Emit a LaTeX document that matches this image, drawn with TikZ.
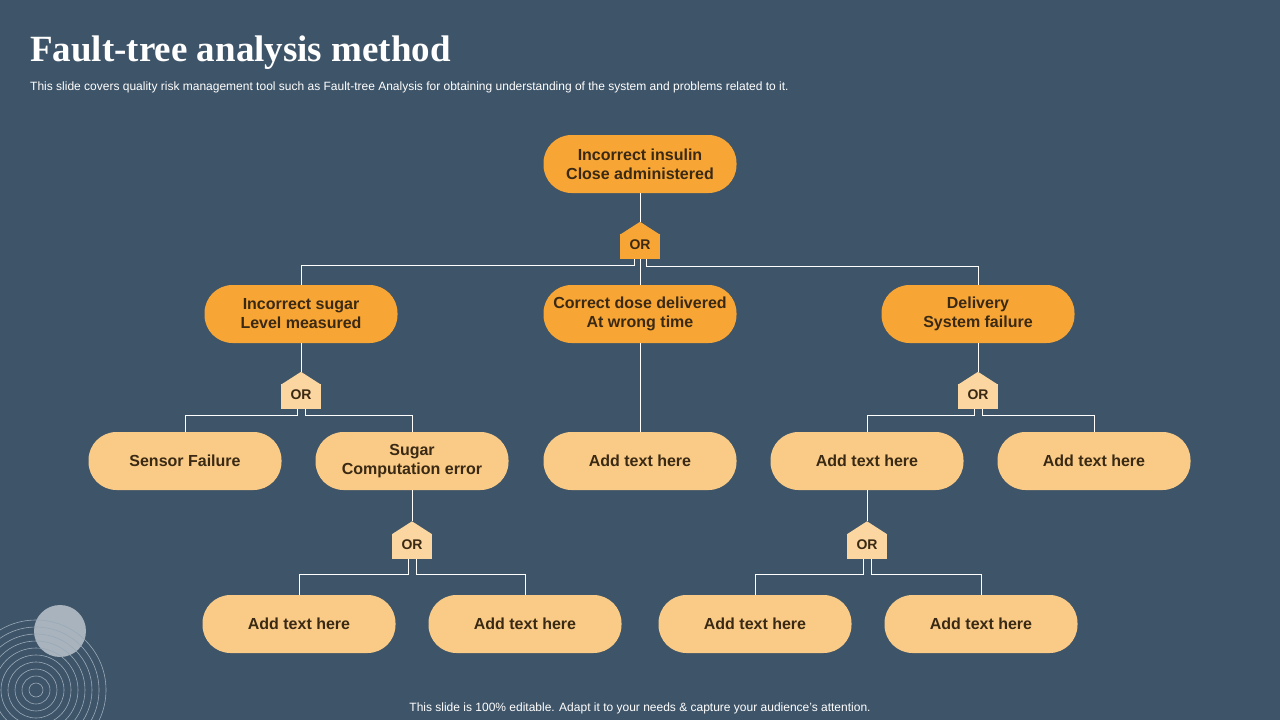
\documentclass[tikz,border=0pt]{standalone}
\usepackage{fontspec}
\setmainfont{Liberation Sans}
\newfontfamily\titlefont{Liberation Serif}
\usetikzlibrary{calc}
\definecolor{bg}{HTML}{3E5468}
\definecolor{hot}{HTML}{F7A534}
\definecolor{soft}{HTML}{F9CB86}
\definecolor{gsoft}{HTML}{FBD6A0}
\definecolor{txt}{HTML}{3A2914}
\definecolor{ring}{HTML}{9AAAB8}
\definecolor{disc}{HTML}{B4BEC7}
\newcommand{\mkgate}[3]{%
  \node[gatebody, fill=#3] (#1) at (#2) {OR};
  \fill[#3] ([yshift=-1pt]#1.north west) -- ([yshift=12pt]#1.north) -- ([yshift=-1pt]#1.north east) -- cycle;
}
\begin{document}
\begin{tikzpicture}[x=1pt,y=-1pt,
  box/.style={rectangle, rounded corners=28pt, minimum width=193pt, minimum height=58pt,
    inner sep=0pt, align=center, text=txt, font=\bfseries\fontsize{16}{19}\selectfont},
  hotbox/.style={box, fill=hot},
  softbox/.style={box, fill=soft},
  gatebody/.style={rectangle, minimum width=40pt, minimum height=25pt, inner sep=0pt,
    text height=10pt, text depth=4pt,
    text=txt, font=\bfseries\fontsize{14}{14}\selectfont},
  link/.style={draw=white, line width=1pt}]
\fill[bg] (0,0) rectangle (1280,720);
\useasboundingbox (0,0) rectangle (1280,720);

% decoration bottom-left
\fill[disc, opacity=0.9] (60,631) circle[radius=26];
\foreach \r in {7,14,...,70} \draw[ring, line width=0.6pt] (36,690) circle[radius=\r];

% texts
\node[anchor=base west, inner sep=0pt, text=white, font=\titlefont\bfseries\fontsize{37}{42}\selectfont] (title) at (30,61) {Fault-tree analysis method};
\node[anchor=base west, inner sep=0pt, text=white, font=\fontsize{12}{14}\selectfont] (sub) at (30,90) {This slide covers quality risk management tool such as Fault-tree Analysis for obtaining understanding of the system and problems related to it.};
\node[anchor=base, inner sep=0pt, text=white, font=\fontsize{12}{14}\selectfont] (foot) at (640,711) {This slide is 100\% editable. Adapt it to your needs \& capture your audience’s attention.};

% nodes
\node[hotbox] (top) at (640,164) {Incorrect insulin\\Close administered};
\node[hotbox] (a) at (301,314) {Incorrect sugar\\Level measured};
\node[hotbox] (b) at (640,314) {Correct dose delivered\\At wrong time};
\node[hotbox] (c) at (978,314) {Delivery\\System failure};
\node[softbox] (s1) at (185,461) {Sensor Failure};
\node[softbox] (s2) at (412,461) {Sugar\\Computation error};
\node[softbox] (s3) at (640,461) {Add text here};
\node[softbox] (s4) at (867,461) {Add text here};
\node[softbox] (s5) at (1094,461) {Add text here};
\node[softbox] (t1) at (299,624) {Add text here};
\node[softbox] (t2) at (525,624) {Add text here};
\node[softbox] (t3) at (755,624) {Add text here};
\node[softbox] (t4) at (981,624) {Add text here};

% gates
\mkgate{g1}{640,246.5}{hot}
\mkgate{g2}{301,396.5}{gsoft}
\mkgate{g3}{978,396.5}{gsoft}
\mkgate{g4}{412,546}{gsoft}
\mkgate{g5}{867,546}{gsoft}

% connectors
\draw[link] (top.south) -- ([yshift=12pt]g1.north);
\draw[link] (g1.south) -- (b.north);
\draw[link] ([xshift=-6pt]g1.south) -- ++(0,6) -| (a.north);
\draw[link] ([xshift=6pt]g1.south) -- ++(0,7) -| (c.north);

\draw[link] (a.south) -- ([yshift=12pt]g2.north);
\draw[link] ([xshift=-4pt]g2.south) -- ++(0,6) -| (s1.north);
\draw[link] ([xshift=4pt]g2.south) -- ++(0,6) -| (s2.north);
\draw[link] (b.south) -- (s3.north);
\draw[link] (c.south) -- ([yshift=12pt]g3.north);
\draw[link] ([xshift=-4pt]g3.south) -- ++(0,6) -| (s4.north);
\draw[link] ([xshift=4pt]g3.south) -- ++(0,6) -| (s5.north);

\draw[link] (s2.south) -- ([yshift=12pt]g4.north);
\draw[link] ([xshift=-4pt]g4.south) -- ++(0,16) -| (t1.north);
\draw[link] ([xshift=4pt]g4.south) -- ++(0,16) -| (t2.north);
\draw[link] (s4.south) -- ([yshift=12pt]g5.north);
\draw[link] ([xshift=-4pt]g5.south) -- ++(0,16) -| (t3.north);
\draw[link] ([xshift=4pt]g5.south) -- ++(0,16) -| (t4.north);
\end{tikzpicture}
\end{document}
